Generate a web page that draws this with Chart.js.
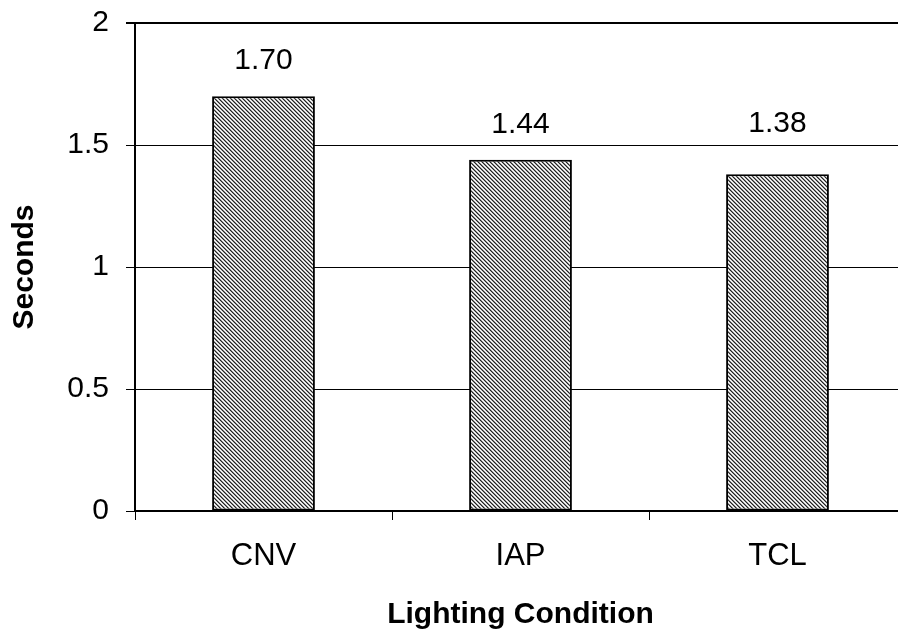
<!DOCTYPE html>
<html>
<head>
<meta charset="utf-8">
<script src="https://cdn.jsdelivr.net/npm/chart.js@4"></script>
<style>
  html, body { margin: 0; padding: 0; background: #fff; overflow: hidden; }
  #wrap { width: 906px; height: 638px; }
</style>
</head>
<body>
<div id="wrap"><canvas id="myChart" width="906" height="638"></canvas></div>
<script>
var categories = ['CNV', 'IAP', 'TCL'];
var seconds = [1.70, 1.44, 1.38];
var yTicks = [0, 0.5, 1, 1.5, 2];

// fine diagonal hatch like the old excel fill
function hatch() {
  var c = document.createElement('canvas');
  c.width = 4; c.height = 4;
  var g = c.getContext('2d');
  var shades = ['#222222', '#8a8a8a', '#ffffff', '#cccccc'];
  for (var y = 0; y < 4; y++) {
    for (var x = 0; x < 4; x++) {
      g.fillStyle = shades[(x - y + 4) % 4];
      g.fillRect(x, y, 1, 1);
    }
  }
  return g.createPattern(c, 'repeat');
}

var labelPlugin = {
  id: 'barLabels',
  afterDatasetsDraw: function(chart) {
    var ctx = chart.ctx;
    var meta = chart.getDatasetMeta(0);
    var ys = chart.scales.y;
    var grids = yTicks.map(function(v) { return ys.getPixelForValue(v); });
    ctx.save();
    ctx.font = '30px "Liberation Sans", Arial, sans-serif';
    ctx.fillStyle = '#000';
    ctx.textAlign = 'center';
    ctx.textBaseline = 'middle';
    meta.data.forEach(function(bar, i) {
      var y = bar.y - 35;
      // excel nudges the label up when it would sit on a gridline
      grids.forEach(function(g) {
        if (g > y - 13 && g < y + 13) y = g - 21;
      });
      ctx.fillText(seconds[i].toFixed(2), bar.x, y);
    });
    ctx.restore();
  }
};

var fam = '"Liberation Sans", Arial, sans-serif';

var ctx = document.getElementById('myChart').getContext('2d');
var myChart = new Chart(ctx, {
  type: 'bar',
  data: {
    labels: categories,
    datasets: [{
      data: seconds,
      backgroundColor: hatch(),
      borderColor: '#000',
      borderWidth: 2,
      borderSkipped: false,
      barPercentage: 0.4,
      categoryPercentage: 1
    }]
  },
  options: {
    responsive: false,
    animation: false,
    layout: { padding: { top: 23, left: 0, right: 0, bottom: 0 } },
    plugins: { legend: { display: false }, tooltip: { enabled: false } },
    scales: {
      x: {
        grid: { offset: true, drawOnChartArea: false, drawTicks: true, tickLength: 9, color: '#000', lineWidth: 1 },
        border: { color: '#000', width: 2 },
        ticks: { color: '#000', font: { family: fam, size: 31 }, padding: 18 },
        title: { display: true, text: 'Lighting Condition', color: '#000', font: { family: fam, size: 30, weight: 'bold' }, padding: { top: 0, bottom: 5 } },
        afterFit: function(s) { s.height = 127; s.paddingLeft = 0; s.paddingRight = 0; }
      },
      y: {
        min: 0, max: 2,
        afterBuildTicks: function(s) { s.ticks = yTicks.map(function(v) { return { value: v }; }); },
        grid: {
          color: '#000',
          lineWidth: function(c) { return c.tick && c.tick.value === 2 ? 2 : 1; },
          tickLength: 9
        },
        border: { color: '#000', width: 2 },
        ticks: { color: '#000', font: { family: fam, size: 30 }, padding: 17, callback: function(v) { return String(v); } },
        title: { display: true, text: 'Seconds', color: '#000', font: { family: fam, size: 30, weight: 'bold' }, padding: { top: 7, bottom: 0 } },
        afterFit: function(s) { s.width = 135; s.paddingTop = 0; s.paddingBottom = 0; }
      }
    }
  },
  plugins: [labelPlugin]
});
</script>
</body>
</html>
